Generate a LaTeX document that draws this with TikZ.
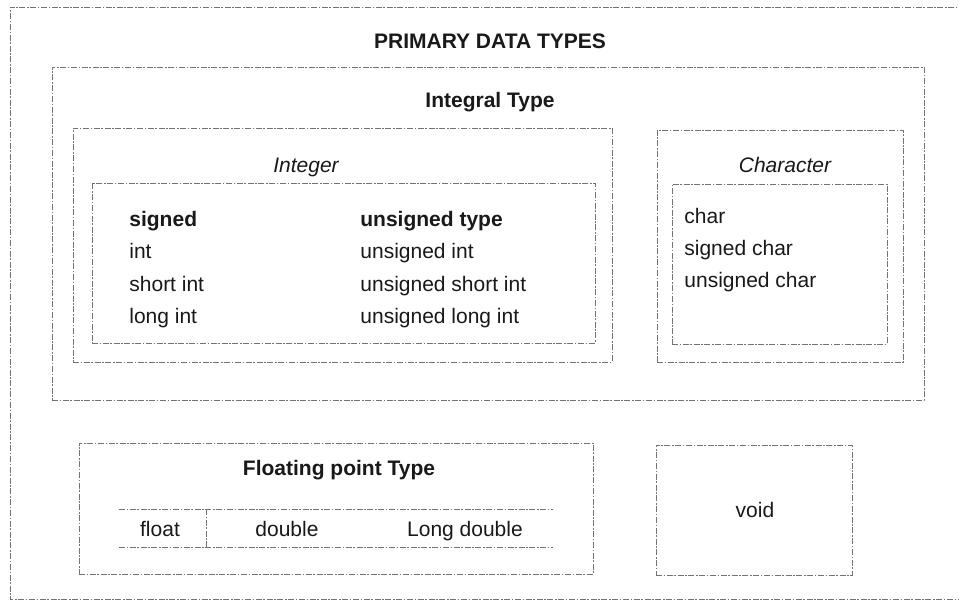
\documentclass[tikz,border=0pt]{standalone}
\usepackage{fontspec}
\setmainfont{Liberation Sans}
\usetikzlibrary{fit}
\begin{document}
\begin{tikzpicture}[x=0.5pt,y=-0.5pt,
  frame/.style={draw=black!55, line width=0.35pt,
    dash pattern=on 3pt off 0.8pt on 0.8pt off 0.8pt},
  box/.style={frame, inner sep=0pt, fit=#1},
  lbl/.style={font=\fontsize{10.5}{12}\selectfont, inner sep=0pt, text=black!90},
  head/.style={lbl, font=\fontsize{10.5}{12}\selectfont\bfseries, anchor=base},
  sub/.style={lbl, font=\fontsize{10.5}{12}\selectfont\itshape, anchor=base},
  item/.style={lbl, anchor=base west},
  cell/.style={lbl, anchor=base}]
\useasboundingbox (0,0) rectangle (959,601);
\fill[white] (0,0) rectangle (959,601);

% outer frame (runs off to the right)
\draw[frame] (965,7) -- (10,7) -- (10,599) -- (965,599);

% corner points of the boxes
\coordinate (i1) at (52,67);   \coordinate (i2) at (924,400);
\coordinate (n1) at (73,128);  \coordinate (n2) at (612,362);
\coordinate (t1) at (92,183);  \coordinate (t2) at (595,343);
\coordinate (c1) at (657,130); \coordinate (c2) at (903,362);
\coordinate (d1) at (672,184); \coordinate (d2) at (887,344);
\coordinate (f1) at (79,443);  \coordinate (f2) at (593,574);
\coordinate (v1) at (656,445); \coordinate (v2) at (852,575);

\node[box={(i1)(i2)}] (integral) {};
\node[box={(n1)(n2)}] (integer) {};
\node[box={(t1)(t2)}] (inttable) {};
\node[box={(c1)(c2)}] (character) {};
\node[box={(d1)(d2)}] (chartable) {};
\node[box={(f1)(f2)}] (floating) {};
\node[box={(v1)(v2)}] (voidbox) {};

% titles
\node[head] (title) at (490,48) {PRIMARY DATA TYPES};
\node[head] (integralT) at (490,107) {Integral Type};
\node[sub] (integerT) at (306,172) {Integer};
\node[sub] (characterT) at (785,172) {Character};
\node[head] (floatingT) at (339,475) {Floating point Type};

% integer table
\node[item, font=\fontsize{10.5}{12}\selectfont\bfseries] (s0) at (129,226) {signed};
\node[item] (s1) at (129,258) {int};
\node[item] (s2) at (129,291) {short int};
\node[item] (s3) at (129,323) {long int};
\node[item, font=\fontsize{10.5}{12}\selectfont\bfseries] (u0) at (360,226) {unsigned type};
\node[item] (u1) at (360,258) {unsigned int};
\node[item] (u2) at (360,291) {unsigned short int};
\node[item] (u3) at (360,323) {unsigned long int};

% character table
\node[item] (ch1) at (684,223) {char};
\node[item] (ch2) at (684,255) {signed char};
\node[item] (ch3) at (684,287) {unsigned char};

% floating point row
\coordinate (r1) at (119,509); \coordinate (r2) at (553,509);
\coordinate (r3) at (119,547); \coordinate (r4) at (553,547);
\coordinate (dv1) at (206,509); \coordinate (dv2) at (206,547);
\draw[frame] (r1) -- (r2);
\draw[frame] (r3) -- (r4);
\draw[frame] (dv1) -- (dv2);
\node[cell] (fl) at (160,536) {float};
\node[cell] (db) at (287,536) {double};
\node[cell] (ld) at (465,536) {Long double};

% void
\node[cell] (vd) at (755,517) {void};
\end{tikzpicture}
\end{document}
